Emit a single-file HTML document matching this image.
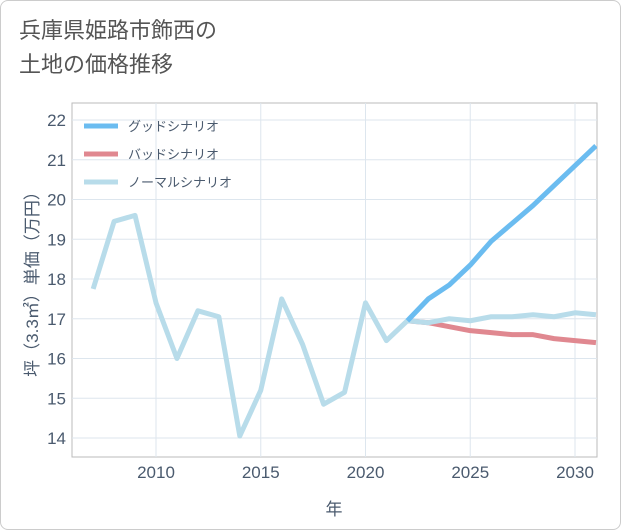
<!DOCTYPE html>
<html><head><meta charset="utf-8"><style>
body{margin:0;background:#fff;}
#wrap{position:relative;width:619px;height:528px;border:1px solid #ccc;border-radius:8px;background:#fff;overflow:hidden;font-family:"Liberation Sans","Noto Sans CJK JP",sans-serif;}
#title{position:absolute;left:18px;top:13px;font-size:22px;line-height:34px;color:#555;}
</style></head><body>
<div id="wrap">
<div id="title">兵庫県姫路市飾西の<br>土地の価格推移</div>
<svg id="chart" width="621" height="530" style="position:absolute;left:-1px;top:-1px"></svg>
</div>
<script>
const years=[2007,2008,2009,2010,2011,2012,2013,2014,2015,2016,2017,2018,2019,2020,2021,2022,2023,2024,2025,2026,2027,2028,2029,2030,2031];
const normalVals=[17.75,19.45,19.6,17.4,16.0,17.2,17.05,14.05,15.2,17.5,16.35,14.85,15.15,17.4,16.45,16.95,16.9,17.0,16.95,17.05,17.05,17.1,17.05,17.15,17.1];
const goodYears=[2022,2023,2024,2025,2026,2027,2028,2029,2030,2031];
const goodVals=[16.95,17.5,17.85,18.35,18.95,19.4,19.85,20.35,20.85,21.35];
const badVals=[16.95,16.9,16.8,16.7,16.65,16.6,16.6,16.5,16.45,16.4];
const yTicks=[14,15,16,17,18,19,20,21,22];
const xTicks=[2010,2015,2020,2025,2030];
const legendLabels=["グッドシナリオ","バッドシナリオ","ノーマルシナリオ"];
const colors=["#6bbcf0","#e08890","#b8dcea"];
const txt="#4a5a6e";
const L=72,R=597,T=103,B=457;
const x=v=>156+(v-2010)*(575-156)/20;
const y=v=>438-(v-14)*(438-120)/8;
const svg=document.getElementById('chart');
const NS="http://www.w3.org/2000/svg";
function mk(t,a,p){const e=document.createElementNS(NS,t);for(const k in a)e.setAttribute(k,a[k]);(p||svg).appendChild(e);return e;}
const frame=mk('rect',{x:L,y:T,width:R-L,height:B-T,fill:'none',stroke:'#bbb'});


yTicks.forEach(v=>{
 const g=mk('line',{x1:L,x2:R,y1:y(v),y2:y(v),stroke:'#dde6ee'});
 
 
 const t=mk('text',{x:L-6,y:y(v)+6,'text-anchor':'end','font-size':17,fill:txt});t.textContent=v;
 
 
});
xTicks.forEach(v=>{
 const g=mk('line',{x1:x(v),x2:x(v),y1:T,y2:B,stroke:'#dde6ee'});
 
 
 const t=mk('text',{x:x(v),y:B+21,'text-anchor':'middle','font-size':17,fill:txt});t.textContent=v;
 
 
});
const xt=mk('text',{x:334,y:515,'text-anchor':'middle','font-size':17,fill:txt});xt.textContent='年';


const yt=mk('text',{x:0,y:0,'text-anchor':'middle','font-size':17,fill:txt,transform:'translate(38,280) rotate(-90)'});yt.textContent='坪（3.3㎡）単価（万円）';


const cp=mk('clipPath',{id:'cp'});mk('rect',{x:L,y:T,width:R-L,height:B-T},cp);
function line(xs,vs,c,name){
 const p=mk('polyline',{points:xs.map((yr,i)=>x(yr)+','+y(vs[i])).join(' '),fill:'none',stroke:c,'stroke-width':5,'stroke-linejoin':'round','clip-path':'url(#cp)'});
 
 
}
line(goodYears,badVals,colors[1],'bad-scenario-line');
line(years,normalVals,colors[2],'normal-scenario-line');
line(goodYears,goodVals,colors[0],'good-scenario-line');
legendLabels.forEach((lab,i)=>{
 const ly=126+i*28;
 const l=mk('line',{x1:84,x2:118,y1:ly,y2:ly,stroke:colors[i],'stroke-width':5});
 
 
 const t=mk('text',{x:128,y:ly+5,'font-size':13,fill:txt});t.textContent=lab;
 
 
});
</script>
</body></html>
